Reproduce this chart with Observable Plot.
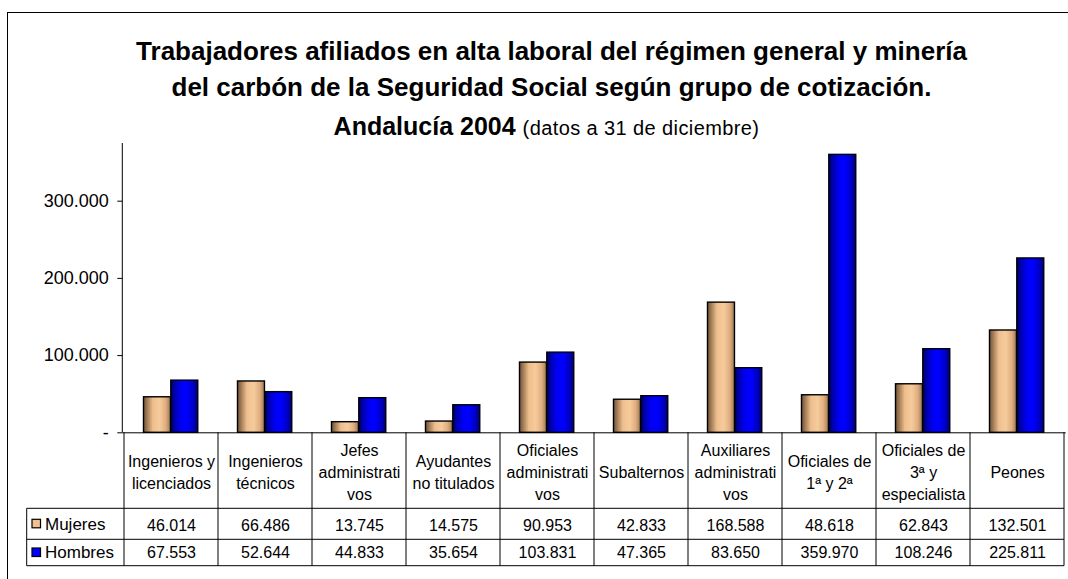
<!DOCTYPE html>
<html><head><meta charset="utf-8">
<script src="https://cdn.jsdelivr.net/npm/d3@7"></script>
<script src="https://cdn.jsdelivr.net/npm/@observablehq/plot@0.6"></script>
<style>
html,body{margin:0;padding:0;background:#fff;}
body{width:1068px;height:579px;overflow:hidden;position:relative;font-family:"Liberation Sans",Arial,sans-serif;}
#border{position:absolute;left:7px;top:12px;width:1100px;height:600px;border-left:1.4px solid #000;border-top:1.4px solid #000;}
.t{position:absolute;left:0;text-align:center;white-space:nowrap;color:#000;}
#chart{position:absolute;left:0;top:130px;}
</style></head><body>
<div id="border"></div>
<div class="t" style="top:38px;width:1103px;font-size:26px;line-height:26px;font-weight:bold">Trabajadores afiliados en alta laboral del régimen general y minería</div>
<div class="t" style="top:74px;width:1103px;font-size:26px;line-height:26px;font-weight:bold">del carbón de la Seguridad Social según grupo de cotización.</div>
<div class="t" style="top:114px;width:1093px;font-size:25px;line-height:25px;"><b>Andalucía 2004</b> <span style="font-size:20px;letter-spacing:0.4px">(datos a 31 de diciembre)</span></div>
<div id="chart"></div>
<script>
const categories = [
  "Ingenieros y\nlicenciados",
  "Ingenieros\ntécnicos",
  "Jefes\nadministrati\nvos",
  "Ayudantes\nno titulados",
  "Oficiales\nadministrati\nvos",
  "Subalternos",
  "Auxiliares\nadministrati\nvos",
  "Oficiales de\n1ª y 2ª",
  "Oficiales de\n3ª y\nespecialista",
  "Peones"
];
const seriesNames = ["Mujeres", "Hombres"];
const mujeres = [46014, 66486, 13745, 14575, 90953, 42833, 168588, 48618, 62843, 132501];
const hombres = [67553, 52644, 44833, 35654, 103831, 47365, 83650, 359970, 108246, 225811];
const yTicks = [0, 100000, 200000, 300000];
const yMax = 374700;

const locale = d3.formatLocale({decimal: ",", thousands: ".", grouping: [3], currency: ["", " €"]});
const fmt = locale.format(",d");

const rows = categories.flatMap((c, i) => [
  {cat: c, serie: seriesNames[0], value: mujeres[i]},
  {cat: c, serie: seriesNames[1], value: hombres[i]}
]);
const rowsM = rows.filter(d => d.serie === seriesNames[0]);
const rowsH = rows.filter(d => d.serie === seriesNames[1]);

const W = 1068, H = 449, mL = 122.3, mR = 2.3, mT = 13, mB = 146.7;
const bandW = (W - mL - mR) / categories.length;
const pad = 19.5, barW = 27.3;
const hdrH = 76, row1H = 31, row2H = 26.4, legLeft = 26.7;

function tableGrid(index, scales, values, dims) {
  const x = scales.x;
  const bw = typeof x.bandwidth === "function" ? x.bandwidth() : (x.bandwidth ?? bandW);
  const yb = dims.height - dims.marginBottom;
  const yA = yb + hdrH, yB = yA + row1H, yC = yB + row2H;
  const xs = categories.map(c => x(c));
  const xEnd = xs[xs.length - 1] + bw;
  xs.push(xEnd);
  const g = d3.create("svg:g").attr("stroke", "#000").attr("stroke-width", 1).attr("fill", "none");
  g.append("line").attr("x1", dims.marginLeft).attr("x2", dims.marginLeft).attr("y1", dims.marginTop).attr("y2", yb);
  for (const xv of xs) g.append("line").attr("x1", xv).attr("x2", xv).attr("y1", yb).attr("y2", yC);
  g.append("line").attr("x1", legLeft).attr("x2", legLeft).attr("y1", yA).attr("y2", yC);
  for (const yy of [yA, yB, yC]) g.append("line").attr("x1", legLeft).attr("x2", xEnd).attr("y1", yy).attr("y2", yy);
  const keys = [{name: seriesNames[0], fill: "#F2C08E", cy: (yA + yB) / 2}, {name: seriesNames[1], fill: "#0000FF", cy: (yB + yC) / 2}];
  for (const k of keys) {
    g.append("rect").attr("x", 32).attr("y", k.cy - 4.5).attr("width", 8.5).attr("height", 8.5).attr("fill", k.fill).attr("stroke", "#000").attr("stroke-width", 1.2);
    g.append("text").attr("x", 45).attr("y", k.cy).attr("dy", "0.35em").attr("stroke", "none").attr("fill", "#000")
      .attr("text-anchor", "start").attr("font-size", 17).text(k.name);
  }
  return g.node();
}

const chart = Plot.plot({
  width: W, height: H,
  marginLeft: mL, marginRight: mR, marginTop: mT, marginBottom: mB,
  style: {fontFamily: '"Liberation Sans", Arial, sans-serif', fontSize: "16px", color: "#000", background: "transparent", overflow: "visible"},
  x: {domain: categories, padding: 0, axis: null},
  y: {domain: [0, yMax]},
  marks: [
    tableGrid,
    Plot.barY(rowsM, {x: "cat", y: "value", fill: "url(#gradM)", stroke: "#000", strokeWidth: 1.4,
      insetLeft: pad, insetRight: bandW - pad - barW}),
    Plot.barY(rowsH, {x: "cat", y: "value", fill: "url(#gradH)", stroke: "#000", strokeWidth: 1.4,
      insetLeft: pad + barW, insetRight: bandW - pad - 2 * barW}),
    Plot.ruleY([0], {stroke: "#000", strokeWidth: 1}),
    Plot.axisY({ticks: yTicks, tickFormat: d => d === 0 ? "-" : fmt(d), tickSize: 5, tickPadding: 9, fontSize: 18, stroke: "#000", label: null}),
    Plot.text(categories, {x: d => d, text: d => d, frameAnchor: "bottom", lineAnchor: "middle", dy: 38, lineHeight: 1.375, fontSize: 16, fill: "#000", ariaLabel: "headers"}),
    Plot.text(rowsM, {x: "cat", text: d => fmt(d.value), frameAnchor: "bottom", lineAnchor: "middle", dy: hdrH + row1H / 2 + 1.5, fontSize: 16, fill: "#000", ariaLabel: "values"}),
    Plot.text(rowsH, {x: "cat", text: d => fmt(d.value), frameAnchor: "bottom", lineAnchor: "middle", dy: hdrH + row1H + row2H / 2, fontSize: 16, fill: "#000", ariaLabel: "values"})
  ]
});

const defs = d3.select(chart).insert("defs", ":first-child");
const gm = defs.append("linearGradient").attr("id", "gradM").attr("x1", 0).attr("x2", 1).attr("y1", 0).attr("y2", 0);
[[0, "#6f5238"], [0.12, "#9c7652"], [0.35, "#efbf8e"], [0.6, "#f6cb9c"], [0.82, "#e0ae80"], [1, "#a07a55"]]
  .forEach(([o, c]) => gm.append("stop").attr("offset", o).attr("stop-color", c));
const gh = defs.append("linearGradient").attr("id", "gradH").attr("x1", 0).attr("x2", 1).attr("y1", 0).attr("y2", 0);
[[0, "#00005a"], [0.15, "#0000b0"], [0.4, "#0000f8"], [0.6, "#0000ff"], [0.85, "#0000c0"], [1, "#000070"]]
  .forEach(([o, c]) => gh.append("stop").attr("offset", o).attr("stop-color", c));

d3.select(chart).selectAll('g[aria-label="values"] text').style("letter-spacing", "-0.5px");
document.getElementById("chart").appendChild(chart);
</script>
</body></html>
